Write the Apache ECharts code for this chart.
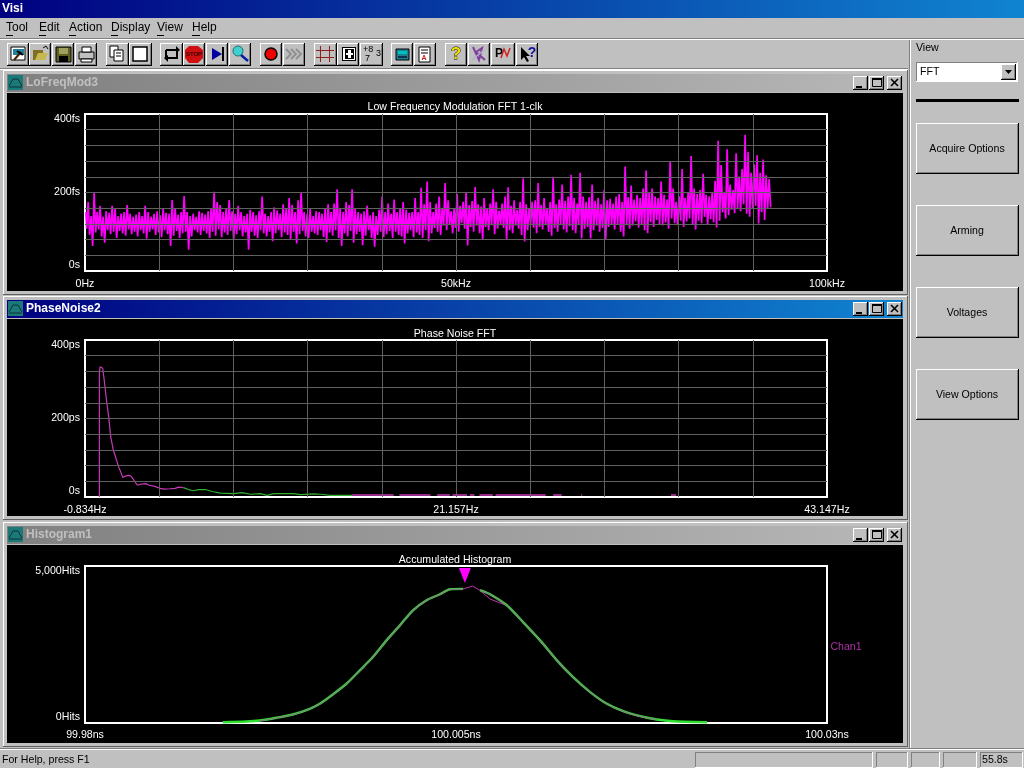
<!DOCTYPE html>
<html><head><meta charset="utf-8">
<style>html,body{margin:0;padding:0;background:#c0c0c0;overflow:hidden}#c{width:1024px;height:768px}</style>
<script src="https://cdn.jsdelivr.net/npm/echarts@6/dist/echarts.min.js"></script>
</head><body><div id="c"></div>
<script>
// ---- Data ----
var lfStepKHz = 0.4043;
var lfUpperFs = [
150,176,140,200,150,166,138,152,148,166,
158,140,146,150,168,146,138,144,150,140,
166,150,138,146,152,142,158,148,146,181,
160,144,150,191,150,140,146,138,152,148,
144,152,160,202,176,168,150,160,181,152,
146,166,150,140,146,156,150,142,152,190,
146,140,150,162,154,146,170,158,186,168,
150,180,200,150,146,158,140,152,150,146,
160,170,150,172,208,160,150,176,168,208,
158,150,146,152,166,142,150,140,156,190,
150,172,146,182,150,160,176,156,148,150,
186,150,212,170,228,176,150,172,190,160,
224,180,152,160,196,166,176,200,168,178,
214,170,164,186,160,172,208,176,154,172,
190,213,166,180,156,176,236,170,160,176,
180,224,168,186,160,176,240,170,182,220,
178,190,245,186,172,250,190,176,188,220,
178,186,170,206,180,184,172,190,196,176,
266,188,218,182,194,186,210,256,200,210,
190,186,228,194,182,280,210,176,190,260,
186,200,293,210,196,206,248,194,190,200,
230,332,270,200,310,220,206,300,240,260,
347,304,250,272,295,250,284,244,234];
var lfLowerFs = [
108,92,64,98,106,88,72,104,94,100,
84,102,96,90,106,94,100,88,104,96,
82,100,106,92,98,86,104,94,64,90,
102,84,96,100,54,88,104,98,92,102,
96,84,100,90,106,86,98,92,102,80,
94,104,88,98,54,100,90,84,104,96,
88,100,76,96,104,86,98,92,79,100,
70,94,102,88,84,100,96,92,104,86,
74,98,90,104,84,64,96,88,102,72,
94,100,66,90,104,84,62,92,100,86,
94,102,84,100,92,88,70,96,104,86,
98,92,84,104,76,96,110,100,92,116,
104,118,96,110,100,122,108,65,112,100,
116,96,79,112,104,118,94,108,120,110,
79,104,96,116,108,92,75,104,118,110,
96,112,106,118,100,90,110,100,120,106,
98,114,104,96,120,83,108,112,83,104,
116,100,110,79,112,120,106,118,100,88,
120,108,116,126,110,118,104,96,124,112,
130,120,116,124,108,134,122,117,128,112,
126,134,120,106,128,122,138,118,132,124,
111,128,150,134,142,156,147,160,152,170,
146,138,158,166,121,150,130,160,164];

var pnEarlyHz = [0.017,0.017,0.057,0.136,0.215,0.294,0.373,0.452,0.571,0.69,0.848,1.006,1.165,1.283,1.402,1.56,1.718,1.877,2.035,2.272,2.51,2.747,2.984,3.3,3.617,3.855,4.21,4.51,4.71,5.0];
var pnEarlyPs = [0,315,332,335,328,302,272,242,204,153,119,98,76,64,50,53,55,54,45,30,33,34,30,27,22,20,21,22,25,24];
var pnLateHz = [5.0,5.3,5.6,5.9,6.3,6.7,7.2,7.98,8.47,8.97,9.56,9.96,10.35,11.54,11.94,12.73,13.12,13.72,15.0];
var pnLatePs = [24,19,16,19,19,14,10,8.5,11,7,8.5,4,8.5,8.5,6,8,7,4,4];
var pnFloorHz = [14.99,17.46,null,17.8,19.64,null,20.04,20.79,null,20.95,21.82,null,21.98,22.25,null,22.55,23.34,null,23.5,26.47,null,26.92,27.42,null,28.58,28.64,null,33.9,34.2];
var pnFloorPs = [5,5,null,5,5,null,5,5,null,5,5,null,5,5,null,5,5,null,5,5,null,5,5,null,5,5,null,5,5];

var histNs = [99.98928,99.99088,99.99177,99.9929,99.994,99.99515,99.99582,99.9967,99.99762,99.99852,99.9994,100.00032,100.00122,100.0021,100.00302,100.00392,100.0046,100.00547,100.00612,100.00662,100.00729,100.00842,100.00952,100.01067,100.0118,100.01289,100.01404,100.01517,100.01627,100.01742,100.01854,100.01964,100.02192];
var histGreen = [25,48,80,166,271,453,612,909,1250,1675,2100,2632,3110,3590,3910,4100,4260,4270,null,4230,4100,3750,3215,2630,1995,1460,985,612,376,217,111,57,25];
var histGray  = [null,null,70,160,265,445,605,905,1245,1670,2095,2625,3105,3585,3905,4095,4255,4265,null,4225,4095,3745,3210,2625,1990,1455,980,606,370,212,105,null,null];
var histPink  = [null,null,75,170,268,440,600,900,1240,1680,2090,2620,3100,3580,3920,4090,4250,4270,4360,4220,3950,3740,3200,2600,1980,1450,975,600,365,205,95,null,null];

var lfXTicks = [0,50,100], lfXLabels = ['0Hz','50kHz','100kHz'];
var lfYTicks = [0,200,400], lfYLabels = ['0s','200fs','400fs'];
var pnXTicks = [-0.834,21.1565,43.147], pnXLabels = ['-0.834Hz','21.157Hz','43.147Hz'];
var pnYTicks = [0,200,400], pnYLabels = ['0s','200ps','400ps'];
var pnXGrid = [-0.834,3.564,7.962,12.360,16.758,21.157,25.555,29.953,34.351,38.749,43.147];
var hiXTicks = [99.98,100.005,100.03], hiXLabels = ['99.98ns','100.005ns','100.03ns'];
var hiYTicks = [0,5000], hiYLabels = ['0Hits','5,000Hits'];

// ---- Series built from the arrays ----
var lfTrace = [];
lfUpperFs.forEach(function(v,i){
  lfTrace.push([(i+0.3)*lfStepKHz, v]);
  lfTrace.push([(i+0.8)*lfStepKHz, lfLowerFs[i]]);
});
function zip(a,b){return a.map(function(x,i){return [x,b[i]];});}

// ---- Window chrome (graphic elements) ----
var FAM = '"Liberation Sans", Arial, sans-serif';
var FONT = '10.6px ' + FAM;
var BOLD12 = 'bold 12px ' + FAM;
var G = [];
function R(x,y,w,h,fill,stroke,lw){G.push({type:'rect',silent:true,z:-5,shape:{x:x,y:y,width:w,height:h},style:{fill:fill||'none',stroke:stroke||null,lineWidth:lw||1}});}
function T(s,x,y,o){o=o||{};G.push({type:'text',silent:true,z:-5,x:x,y:y,style:{text:s,fill:o.c||'#000',font:o.f||FONT,textAlign:o.a||'left',textVerticalAlign:'middle',stroke:o.s||null,lineWidth:o.s?0.8:0}});}
function P(pts,fill){G.push({type:'polygon',silent:true,z:-5,shape:{points:pts},style:{fill:fill}});}
function L(pts,stroke,lw){G.push({type:'polyline',silent:true,z:-5,shape:{points:pts},style:{fill:'none',stroke:stroke,lineWidth:lw||1}});}
function C(cx,cy,r,fill,stroke,lw){G.push({type:'circle',silent:true,z:-5,shape:{cx:cx,cy:cy,r:r},style:{fill:fill||'none',stroke:stroke||null,lineWidth:lw||1}});}
function raised(x,y,w,h,face){
  R(x,y,w,h,'#000');R(x,y,w-1,h-1,'#fff');R(x+1,y+1,w-2,h-2,'#808080');R(x+1,y+1,w-3,h-3,face||'#c0c0c0');
}
function sunken(x,y,w,h,face){
  R(x,y,w,h,'#fff');R(x,y,w-1,h-1,'#808080');R(x+1,y+1,w-2,h-2,face||'#c0c0c0');
}
function grad(a,b){return {type:'linear',x:0,y:0,x2:1,y2:0,colorStops:[{offset:0,color:a},{offset:1,color:b}]};}

R(0,0,1024,768,'#c0c0c0');
// title bar
R(0,0,1024,18,grad('#000080','#1084d0'));
T('Visi',2,9,{c:'#fff',f:BOLD12});
// menu
[['Tool',6,7],['Edit',39,7],['Action',69,7],['Display',111,7],['View',157,7],['Help',192,8]].forEach(function(m){
  T(m[0],m[1],28,{f:'12px '+FAM});
  R(m[1],35,m[2],1,'#000');
});
R(0,38,1024,1,'#808080');R(0,39,1024,1,'#fff');
R(0,68,908,1,'#808080');R(0,69,908,1,'#fff');

// toolbar buttons
var btns=[[7,22],[29,22],[52,22],[75,22],[106,23],[129,23],[160,23],[183,22],[206,22],[229,22],[260,22],[283,22],[314,23],[337,22],[360,23],[391,22],[414,22],[445,22],[468,22],[491,24],[516,22]];
btns.forEach(function(b){raised(b[0],43,b[1],23);});
// 1 picture + hammer
R(11,47,14,13,'#fff','#000');R(13,49,11,6,'#2080a0');L([[14,60],[21,52]],'#402000',2);L([[17,51],[23,55]],'#000',2);
// 2 folder
R(33,50,10,10,'#807020');P([[35,60],[38,53],[48,53],[45,60]],'#c8b850');L([[43,48],[46,46],[48,49]],'#000');
// 3 floppy
R(56,47,15,15,'#606020','#000');R(59,48,9,6,'#a0a060');R(59,56,9,6,'#000');
// 4 printer
R(79,52,15,7,'#c0c0c0','#000');R(82,47,9,5,'#fff','#000');R(81,59,11,3,'#fff','#000');
// 5 copy
R(110,46,8,11,'#fff','#000');R(114,50,9,11,'#fff','#000');L([[116,53],[121,53]],'#000');L([[116,56],[121,56]],'#000');
// 6 blank
R(133,47,14,14,'#fff','#000',1.5);
// 7 loop
L([[166,50],[177,50],[177,58],[166,58],[166,50]],'#000',2);P([[176,46],[180,50],[176,53]],'#000');P([[168,55],[164,58],[168,62]],'#000');
// 8 stop
P([[189,46],[198,46],[203,50],[203,58],[198,63],[189,63],[185,58],[185,50]],'#d01010');
T('STOP',194,54.5,{c:'#300',a:'center',f:'bold 6px "Liberation Sans", Arial, sans-serif'});
// 9 play to bar
P([[212,48],[222,54],[212,60]],'#0000a0');R(222,47,2,14,'#000');
// 10 magnifier
C(238,51,5,'#40d0d0','#207070');L([[241,55],[248,61]],'#0020a0',2.5);
// 11 record
C(271,54,6,'#f00000','#000',1.5);
// 12 fast forward
[286,291,296].forEach(function(x){L([[x,49],[x+5,54],[x,59]],'#909090',2);});
// 13 grid hash
[320,329].forEach(function(x){R(x,46,1,16,'#902020');});[50,57].forEach(function(y){R(316,y,18,1,'#902020');});
// 14 plus box
R(342,47,14,14,'#000');R(343,48,12,12,'#fff');R(345,49,9,10,'#000');R(348,50,3,8,'#fff');R(346,53,7,2,'#fff');
// 15 numbers
T('+8',363,50,{f:'9px "Liberation Sans", Arial, sans-serif'});T('3',376,54,{f:'9px "Liberation Sans", Arial, sans-serif'});T('7',365,59,{f:'9px "Liberation Sans", Arial, sans-serif'});
// 16 panel
R(396,49,13,11,'#208090','#000');R(398,51,9,3,'#00c0c0');R(398,56,9,2,'#103050');
// 17 notepad
R(419,47,11,15,'#fff','#000');L([[421,50],[428,50]],'#000');L([[421,53],[428,53]],'#000');T('A',424,58,{c:'#c02020',a:'center',f:'bold 7px "Liberation Sans", Arial, sans-serif'});
// 18 question
T('?',456,54,{c:'#f0e000',s:'#000',a:'center',f:'bold 17px "Liberation Sans", Arial, sans-serif'});
// 19 scribble
L([[473,47],[479,60],[482,48],[476,52],[485,60]],'#8040a0',2);L([[472,60],[484,50]],'#b0b0d0',1.5);
// 20 P + wave
T('P',495,54,{f:'bold 12px "Liberation Sans", Arial, sans-serif'});L([[501,58],[504,49],[507,56],[510,48]],'#d02020',1.5);
// 21 help arrow
P([[521,47],[521,60],[524,57],[527,62],[529,61],[526,56],[530,56]],'#000');T('?',532,53,{c:'#1010a0',a:'center',f:'bold 14px "Liberation Sans", Arial, sans-serif'});

// MDI frame
R(909,40,1,710,'#808080');R(910,40,1,710,'#fff');
function mdi(top,bot,titleTop,titleBot,name,active){
  R(3,top,905,bot-top,'#c0c0c0');
  R(3,top,905,1,'#fff');R(3,top,1,bot-top,'#fff');R(3,bot-1,905,1,'#606060');R(907,top,1,bot-top,'#606060');
  R(7,titleTop,896,titleBot-titleTop,active?grad('#000080','#1084d0'):grad('#808080','#b8b8b8'));
  R(8,titleTop+1,15,15,'#1a7a7a');L([[9,titleTop+12],[13,titleTop+5],[18,titleTop+5],[22,titleTop+12]],'#103030',1);L([[9,titleTop+13],[22,titleTop+13]],'#103030',1);
  T(name,26,titleTop+9,{c:active?'#fff':'#c0c0c0',f:BOLD12});
  var by=titleTop+2;
  raised(853,by,15,14);raised(869,by,15,14);raised(887,by,15,14);
  R(856,by+10,6,2,'#000');
  R(872.5,by+2.5,9,8,'none','#000',1);R(872,by+2,10,2,'#000');
  L([[891,by+3],[898,by+10]],'#000',1.6);L([[898,by+3],[891,by+10]],'#000',1.6);
  R(7,titleBot+1,896,bot-titleBot-5,'#000');
}
mdi(70,295,74,92,'LoFreqMod3',false);
mdi(296,520,300,318,'PhaseNoise2',true);
mdi(522,747,526,544,'Histogram1',false);
T('Chan1',846,647,{c:'#b030a8',a:'center'});

// right panel
T('View',916,48);
sunken(916,62,102,20,'#fff');
T('FFT',920,72);
raised(1001,64,15,16);P([[1005,70],[1012,70],[1008.5,74]],'#000');
R(916,99,103,3,'#000');
[['Acquire Options',123],['Arming',205],['Voltages',287],['View Options',369]].forEach(function(b){
  raised(916,b[1],103,51);
  T(b[0],967,b[1]+26,{a:'center'});
});

// status bar
R(0,748,1024,1,'#808080');R(0,749,1024,1,'#fff');
T('For Help, press F1',2,760);
[[695,178],[876,32],[911,29],[943,34],[980,43]].forEach(function(p){sunken(p[0],752,p[1],16);});
T('55.8s',982,760);

// ---- Chart ----
var lab={color:'#fff',fontFamily:FAM,fontSize:10.6};
var gridLine={show:true,showMinLine:false,showMaxLine:false,lineStyle:{color:'#606060',width:1}};
function fmt(ticks,labels){return function(v){
  for(var i=0;i<ticks.length;i++){if(Math.abs(ticks[i]-v)<1e-6)return labels[i];}return '';};}
function yAx(idx,max,interval,ticks,labels,grid){
  return {type:'value',gridIndex:idx,min:0,max:max,interval:interval,z:5,
    axisLine:{show:false},axisTick:{show:false},splitLine:grid?gridLine:{show:false},
    axisLabel:Object.assign({},lab,{customValues:ticks,formatter:fmt(ticks,labels),margin:5,
      verticalAlignMaxLabel:'top',verticalAlignMinLabel:'bottom'})};
}
function title(t,y){return {text:t,left:455,top:y,textAlign:'center',padding:0,
  textStyle:{color:'#fff',fontWeight:'normal',fontSize:10.6,fontFamily:FAM}};}
function line(name,x,y,data,color,w,z){return {type:'line',name:name,xAxisIndex:x,yAxisIndex:y,data:data,
  showSymbol:false,symbol:'none',silent:true,animation:false,z:z||2,connectNulls:false,
  lineStyle:{color:color,width:w}};}

var chart=echarts.init(document.getElementById('c'),null,{renderer:'canvas',width:1024,height:768});
var hist=line('Chan1 reference',2,2,zip(histNs,histGreen),'#30e030',2.4,3);
hist.smooth=0.25;
hist.markPoint={silent:true,animation:false,symbol:'triangle',symbolRotate:180,symbolSize:[12,15],
  itemStyle:{color:'#ff00ff'},label:{show:false},data:[{coord:[100.0056,4700]}]};
var histG=line('Chan1 gray',2,2,zip(histNs,histGray),'#808080',1.2,4); histG.smooth=0.25;
var histP=line('Chan1 pink',2,2,zip(histNs,histPink),'#c030b0',1,2);
var lfSeries=line('Low frequency modulation',0,0,lfTrace,'#ff00ff',1.7);
lfSeries.step='middle';
chart.setOption({
  animation:false,
  backgroundColor:'#c0c0c0',
  graphic:{elements:G},
  title:[title('Low Frequency Modulation FFT 1-clk',102),title('Phase Noise FFT',329),title('Accumulated Histogram',555)],
  grid:[
   {left:85,top:114,width:742,height:157,show:true,borderColor:'#fff',borderWidth:2,backgroundColor:'#000'},
   {left:85,top:340,width:742,height:157,show:true,borderColor:'#fff',borderWidth:2,backgroundColor:'#000'},
   {left:85,top:566,width:742,height:157,show:true,borderColor:'#fff',borderWidth:2,backgroundColor:'#000'}],
  xAxis:[
   {type:'value',gridIndex:0,min:0,max:100,interval:10,z:5,axisLine:{show:false},axisTick:{show:false},splitLine:gridLine,
    axisLabel:Object.assign({},lab,{customValues:lfXTicks,formatter:fmt(lfXTicks,lfXLabels),margin:8,showMinLabel:true,showMaxLabel:true})},
   {type:'value',gridIndex:1,min:-0.834,max:43.147,z:5,axisLine:{show:false},axisTick:{show:false,customValues:pnXGrid},splitLine:gridLine,
    axisLabel:Object.assign({},lab,{customValues:pnXTicks,formatter:fmt(pnXTicks,pnXLabels),margin:8})},
   {type:'value',gridIndex:2,min:99.98,max:100.03,z:5,axisLine:{show:false},axisTick:{show:false},splitLine:{show:false},
    axisLabel:Object.assign({},lab,{customValues:hiXTicks,formatter:fmt(hiXTicks,hiXLabels),margin:7})}],
  yAxis:[yAx(0,400,40,lfYTicks,lfYLabels,true),yAx(1,400,40,pnYTicks,pnYLabels,true),yAx(2,5000,5000,hiYTicks,hiYLabels,false)],
  series:[
    lfSeries,
    line('Phase noise early',1,1,zip(pnEarlyHz,pnEarlyPs),'#c838b8',1.2),
    line('Phase noise late',1,1,zip(pnLateHz,pnLatePs),'#30b030',1.2),
    line('Phase noise floor',1,1,zip(pnFloorHz,pnFloorPs),'#c838b8',1.5),
    histP,
    hist,
    histG
  ]
});
</script></body></html>
